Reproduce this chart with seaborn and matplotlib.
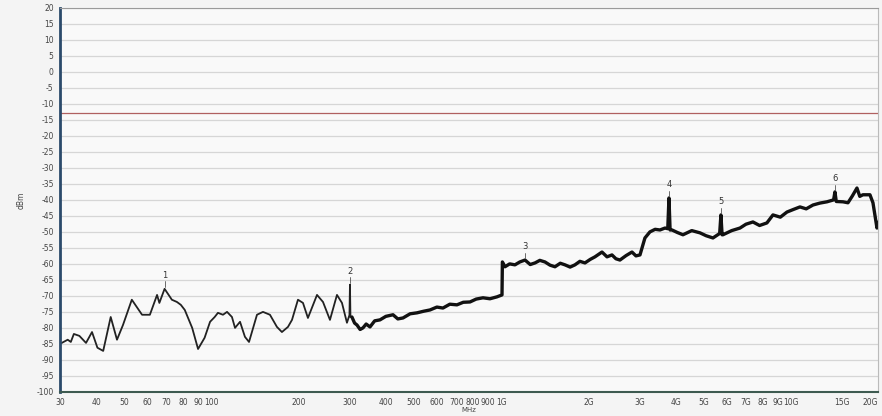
import matplotlib
matplotlib.use("Agg")
import matplotlib.pyplot as plt
import numpy as np
import pandas as pd
import seaborn as sns

# Spectrum trace (frequency in MHz, level in dBm)
freq_mhz = [
    30, 31.9, 32.7, 33.5, 35.0, 36.9, 38.7, 40.4, 42.3, 44.9, 47.2, 49.5,
    53.1, 57.6, 61.3, 64.9, 66.1, 68.9, 73.0, 76.0, 78.4, 80.9, 85.8, 89.9,
    94.7, 98.9, 102.6, 105.3, 109.6, 113.2, 117.7, 120.6, 125.5, 130.5,
    134.8, 143.6, 150.6, 159.2, 168.3, 175.1, 183.7, 189.7, 198.9, 207.0,
    215.3, 231.4, 242.7, 256.5, 271.2, 282.2, 293.6, 299.5, 300.7, 301.9,
    305.4, 312, 318, 326, 333.5, 342, 352.6, 366, 381.7, 400, 423.4, 440,
    458.4, 485, 512.2, 540, 568, 600, 629.8, 665, 703.8, 740, 780.6, 820,
    865.6, 915, 967.6, 1006.9, 1010, 1031, 1070, 1116, 1160, 1209, 1260,
    1309, 1360, 1417, 1475, 1534, 1600, 1661, 1730, 1798, 1870, 1947, 2030,
    2108, 2229, 2320, 2413, 2490, 2571, 2700, 2829, 2920, 3015, 3136, 3263,
    3400, 3534, 3678, 3760, 3796, 3830, 3889, 4060, 4243, 4550, 4857, 5100,
    5385, 5680, 5737, 5790, 5830, 6250, 6675, 7000, 7399, 7800, 8268, 8675,
    9200, 9696, 10200, 10753, 11300, 11926, 12600, 13326, 14050, 14200,
    14350, 15134, 15749, 16300, 16914, 17300, 17739, 18755, 19210, 19833,
    20000,
]
level_dbm = [
    -85.0, -83.7, -84.4, -81.9, -82.5, -84.7, -81.3, -86.2, -87.2, -76.6,
    -83.7, -79.1, -71.2, -75.9, -75.9, -69.7, -72.2, -67.8, -71.2, -71.9,
    -72.8, -74.4, -80.0, -86.6, -83.1, -78.1, -76.6, -75.3, -75.9, -75.0,
    -76.6, -80.0, -78.1, -82.8, -84.4, -75.9, -75.0, -75.9, -79.7, -81.3,
    -79.7, -77.5, -71.2, -72.2, -76.9, -69.7, -71.9, -77.5, -69.7, -72.2,
    -78.4, -76.0, -66.5, -76.6, -76.6, -78.5, -79.1, -80.5, -80.0, -78.8,
    -79.7, -77.8, -77.5, -76.4, -75.9, -77.2, -76.9, -75.6, -75.3, -74.8,
    -74.4, -73.5, -73.8, -72.6, -72.8, -72.0, -71.9, -71.0, -70.6, -70.9,
    -70.3, -69.7, -59.4, -60.9, -60.0, -60.3, -59.4, -58.8, -60.2, -59.7,
    -58.9, -59.4, -60.4, -60.9, -59.8, -60.3, -61.0, -60.3, -59.2, -59.7,
    -58.6, -57.8, -56.3, -57.8, -57.2, -58.4, -58.8, -57.4, -56.3, -57.5,
    -57.2, -51.9, -50.0, -49.2, -49.4, -48.8, -49.0, -39.4, -49.4, -49.4,
    -50.2, -50.9, -49.6, -50.3, -51.2, -51.9, -50.5, -44.7, -50.9, -50.9,
    -49.6, -48.8, -47.6, -46.9, -48.0, -47.2, -44.7, -45.4, -43.8, -43.0,
    -42.2, -42.8, -41.6, -41.0, -40.6, -40.0, -37.5, -40.5, -40.6, -40.9,
    -38.8, -36.3, -38.9, -38.4, -38.4, -40.9, -48.8, -47.0,
]

# Numbered markers: frequency (MHz) and peak level (dBm)
marker_freq = [68.9, 300.7, 1209, 3796, 5737, 14200]
marker_level = [-67.8, -66.5, -58.8, -39.4, -44.7, -37.5]
marker_label = ["1", "2", "3", "4", "5", "6"]

limit_dbm = -13

xtick_vals = [30, 40, 50, 60, 70, 80, 90, 100, 200, 300, 400, 500, 600, 700,
              800, 900, 1000, 2000, 3000, 4000, 5000, 6000, 7000, 8000, 9000,
              10000, 15000, 20000]
xtick_labels = ["30", "40", "50", "60", "70", "80", "90", "100", "200", "300",
                "400", "500", "600", "700", "800", "900", "1G", "2G", "3G",
                "4G", "5G", "6G", "7G", "8G", "9G", "10G", "15G", "20G"]
ytick_vals = list(range(-100, 25, 5))

df = pd.DataFrame({"freq": freq_mhz, "level": level_dbm})

sns.set_style("white")
plt.rcParams["font.family"] = ["DejaVu Sans"]
plt.rcParams["axes.unicode_minus"] = False

fig = plt.figure(figsize=(8.82, 4.16), dpi=100, facecolor="#f4f4f4")
ax = fig.add_axes([0.068, 0.058, 0.9275, 0.923])
ax.set_facecolor("#f9f9f9")

# smooth low part thin, noisy upper part drawn heavier
low = df[df["freq"] <= 305.4]
high = df[df["freq"] >= 305.4]
sns.lineplot(data=low, x="freq", y="level", ax=ax, color="#222222",
             linewidth=1.3, estimator=None, sort=False)
sns.lineplot(data=high, x="freq", y="level", ax=ax, color="#111111",
             linewidth=2.4, estimator=None, sort=False)

ax.axhline(limit_dbm, color="#b06060", linewidth=0.9, zorder=1)

for f, lv, lab in zip(marker_freq, marker_level, marker_label):
    ax.plot([f, f], [lv + 0.5, lv + 2.3], color="#555555", linewidth=0.6)
    ax.text(f, lv + 4.2, lab, fontsize=6, color="#333333",
            ha="center", va="center")

ax.set_xscale("log")
ax.set_xlim(30, 20000)
ax.set_ylim(-100, 20)
ax.set_xticks(xtick_vals)
ax.set_xticklabels(xtick_labels)
ax.xaxis.set_minor_locator(matplotlib.ticker.NullLocator())
ax.get_xticklabels()[-1].set_horizontalalignment("right")
ax.set_yticks(ytick_vals)
ax.tick_params(axis="both", labelsize=5.5, colors="#444444", length=3,
               width=0.6, pad=1.5)
ax.set_xlabel("MHz", fontsize=5, color="#444444", labelpad=0)
ax.set_ylabel("dBm", fontsize=5.5, color="#444444", labelpad=8)

ax.yaxis.grid(True, color="#d6d6d6", linewidth=0.9)
ax.xaxis.grid(False)

ax.spines["left"].set_color("#2b4a6b")
ax.spines["left"].set_linewidth(2.0)
ax.spines["bottom"].set_color("#3d5a50")
ax.spines["bottom"].set_linewidth(1.5)
ax.spines["top"].set_color("#9a9a9a")
ax.spines["top"].set_linewidth(0.8)
ax.spines["right"].set_color("#bbbbbb")
ax.spines["right"].set_linewidth(0.8)

fig.savefig("out.png", dpi=100, facecolor=fig.get_facecolor())
